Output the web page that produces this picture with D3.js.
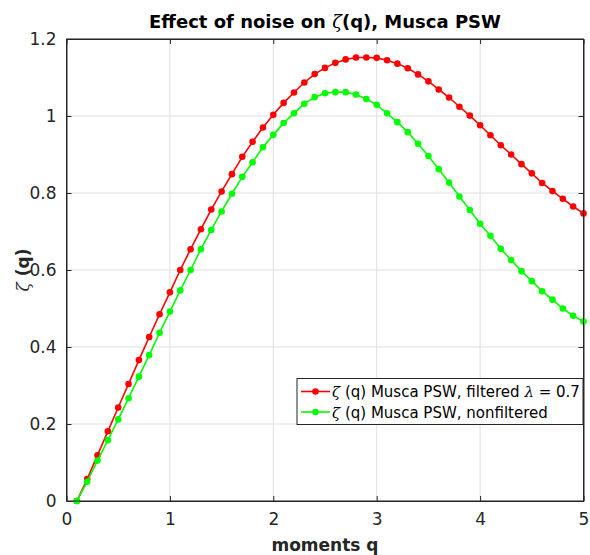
<!DOCTYPE html>
<html>
<head>
<meta charset="utf-8">
<script src="https://cdn.jsdelivr.net/npm/d3@7"></script>
<style>
  body { margin: 0; background: #fff; }
  text { font-family: "DejaVu Sans", sans-serif; }
</style>
</head>
<body>
<div id="chart"></div>
<script>
// moments q
var qValues = [0.1, 0.2, 0.3, 0.4, 0.5, 0.6, 0.7, 0.8, 0.9, 1.0,
  1.1, 1.2, 1.3, 1.4, 1.5, 1.6, 1.7, 1.8, 1.9, 2.0,
  2.1, 2.2, 2.3, 2.4, 2.5, 2.6, 2.7, 2.8, 2.9, 3.0,
  3.1, 3.2, 3.3, 3.4, 3.5, 3.6, 3.7, 3.8, 3.9, 4.0,
  4.1, 4.2, 4.3, 4.4, 4.5, 4.6, 4.7, 4.8, 4.9, 5.0];

// zeta(q), filtered lambda = 0.7
var filteredZeta = [0, 0.057, 0.119, 0.181, 0.243, 0.304, 0.366, 0.426, 0.485, 0.542,
  0.600, 0.654, 0.706, 0.757, 0.804, 0.849, 0.894, 0.933, 0.970, 1.003,
  1.034, 1.061, 1.087, 1.109, 1.125, 1.138, 1.147, 1.152, 1.152, 1.151,
  1.145, 1.136, 1.124, 1.108, 1.090, 1.069, 1.048, 1.024, 1.001, 0.976,
  0.950, 0.924, 0.900, 0.875, 0.851, 0.826, 0.805, 0.785, 0.765, 0.747];

// zeta(q), nonfiltered
var nonfilteredZeta = [0, 0.050, 0.105, 0.158, 0.212, 0.267, 0.323, 0.379, 0.437, 0.492,
  0.547, 0.600, 0.654, 0.704, 0.752, 0.798, 0.842, 0.880, 0.919, 0.951,
  0.982, 1.007, 1.032, 1.049, 1.059, 1.062, 1.062, 1.056, 1.044, 1.029,
  1.007, 0.984, 0.958, 0.928, 0.896, 0.862, 0.827, 0.791, 0.756, 0.720,
  0.689, 0.655, 0.626, 0.597, 0.571, 0.545, 0.523, 0.500, 0.481, 0.466];

var xTicks = [0, 1, 2, 3, 4, 5];
var yTicks = [0, 0.2, 0.4, 0.6, 0.8, 1, 1.2];

var series = [
  { name: ' (q) Musca PSW, filtered ', lambda: true, values: filteredZeta, color: '#ff0000' },
  { name: ' (q) Musca PSW, nonfiltered', lambda: false, values: nonfilteredZeta, color: '#00ff00' }
];

const width = 590;
const height = 555;
const margin = {
  left: 66.5,
  right: 6.5,
  top: 39,
  bottom: 54,
};
const chartWidth = width - margin.left - margin.right;
const chartHeight = height - margin.top - margin.bottom;

// Scales
var scaleX = d3.scaleLinear()
  .domain([0, 5])
  .range([0, chartWidth]);

var scaleY = d3.scaleLinear()
  .domain([0, 1.2])
  .range([chartHeight, 0]);

var svg = d3.select('#chart')
  .append('svg')
  .attr('width', width)
  .attr('height', height);

var group = svg.append('g')
  .attr('transform', 'translate(' + margin.left + ',' + margin.top + ')');

// Grid
group.append('g')
  .selectAll('line')
  .data(xTicks)
  .enter()
  .append('line')
  .attr('x1', function (d) { return scaleX(d); })
  .attr('x2', function (d) { return scaleX(d); })
  .attr('y1', 0)
  .attr('y2', chartHeight)
  .attr('stroke', '#dfdfdf')
  .attr('stroke-width', 1);

group.append('g')
  .selectAll('line')
  .data(yTicks)
  .enter()
  .append('line')
  .attr('x1', 0)
  .attr('x2', chartWidth)
  .attr('y1', function (d) { return scaleY(d); })
  .attr('y2', function (d) { return scaleY(d); })
  .attr('stroke', '#dfdfdf')
  .attr('stroke-width', 1);

// Axes (ticks inward, MATLAB style)
var axisX = d3.axisBottom(scaleX)
  .tickValues(xTicks)
  .tickFormat(d3.format('d'))
  .tickSizeInner(-5)
  .tickSizeOuter(0)
  .tickPadding(12);

var axisY = d3.axisLeft(scaleY)
  .tickValues(yTicks)
  .tickFormat(function (d) { return String(+d.toFixed(1)); })
  .tickSizeInner(-5)
  .tickSizeOuter(0)
  .tickPadding(10);

var gx = group.append('g')
  .attr('transform', 'translate(0,' + chartHeight + ')')
  .call(axisX);

var gy = group.append('g')
  .call(axisY);

var gxTop = group.append('g')
  .call(d3.axisTop(scaleX).tickValues(xTicks).tickSizeInner(-5).tickSizeOuter(0).tickFormat(''));

var gyRight = group.append('g')
  .attr('transform', 'translate(' + chartWidth + ',0)')
  .call(d3.axisRight(scaleY).tickValues(yTicks).tickSizeInner(-5).tickSizeOuter(0).tickFormat(''));

[gx, gy, gxTop, gyRight].forEach(function (g) {
  g.selectAll('.domain').attr('stroke', '#262626').attr('stroke-width', 1);
  g.selectAll('.tick line').attr('stroke', '#262626');
  g.selectAll('.tick text')
    .attr('fill', '#262626')
    .style('font-family', '"DejaVu Sans", sans-serif')
    .style('font-size', '17px');
});

// Lines and markers
var lineFunc = d3.line()
  .x(function (d, i) { return scaleX(qValues[i]); })
  .y(function (d) { return scaleY(d); });

series.forEach(function (s) {
  group.append('path')
    .attr('d', lineFunc(s.values))
    .attr('stroke', s.color)
    .attr('stroke-width', 1.6)
    .attr('fill', 'none');

  group.append('g')
    .selectAll('circle')
    .data(s.values)
    .enter()
    .append('circle')
    .attr('cx', function (d, i) { return scaleX(qValues[i]); })
    .attr('cy', function (d) { return scaleY(d); })
    .attr('r', 3.3)
    .attr('fill', s.color);
});

// Box on top
group.append('rect')
  .attr('x', 0)
  .attr('y', 0)
  .attr('width', chartWidth)
  .attr('height', chartHeight)
  .attr('fill', 'none')
  .attr('stroke', '#262626')
  .attr('stroke-width', 1);

// Legend
var legend = svg.append('g')
  .attr('transform', 'translate(297, 378.5)');

legend.append('rect')
  .attr('width', 286)
  .attr('height', 46)
  .attr('fill', '#fff')
  .attr('stroke', '#262626')
  .attr('stroke-width', 1);

series.forEach(function (s, i) {
  var y = 13 + i * 20.5;
  legend.append('line')
    .attr('x1', 4).attr('x2', 33)
    .attr('y1', y).attr('y2', y)
    .attr('stroke', s.color)
    .attr('stroke-width', 1.6);
  legend.append('circle')
    .attr('cx', 18.5).attr('cy', y).attr('r', 3.3)
    .attr('fill', s.color);
  var t = legend.append('text')
    .attr('x', 35)
    .attr('y', y + 5.5)
    .attr('fill', '#000')
    .style('font-size', '15px');
  t.append('tspan').style('font-family', '"DejaVu Serif", serif').style('font-style', 'italic').text('ζ');
  t.append('tspan').text(s.name);
  if (s.lambda) {
    t.append('tspan').style('font-family', '"DejaVu Serif", serif').style('font-style', 'italic').text('λ');
    t.append('tspan').text(' = 0.7');
  }
});

// Title
var title = svg.append('text')
  .attr('x', margin.left + chartWidth / 2)
  .attr('y', 28)
  .attr('text-anchor', 'middle')
  .attr('fill', '#000')
  .style('font-size', '18px')
  .style('font-weight', 'bold');
title.append('tspan').text('Effect of noise on ');
title.append('tspan').style('font-family', '"DejaVu Serif", serif').style('font-style', 'italic').style('font-weight', 'normal').text('ζ');
title.append('tspan').text('(q), Musca PSW');

// Axis labels
svg.append('text')
  .attr('x', margin.left + chartWidth / 2)
  .attr('y', 551)
  .attr('text-anchor', 'middle')
  .attr('fill', '#262626')
  .style('font-size', '17px')
  .style('font-weight', 'bold')
  .text('moments q');

var ylabel = svg.append('text')
  .attr('transform', 'translate(29,' + (margin.top + chartHeight / 2) + ') rotate(-90)')
  .attr('text-anchor', 'middle')
  .attr('fill', '#262626')
  .style('font-size', '17px')
  .style('font-weight', 'bold');
ylabel.append('tspan').style('font-family', '"DejaVu Serif", serif').style('font-style', 'italic').style('font-weight', 'normal').text('ζ');
ylabel.append('tspan').text(' (q)');
</script>
</body>
</html>
